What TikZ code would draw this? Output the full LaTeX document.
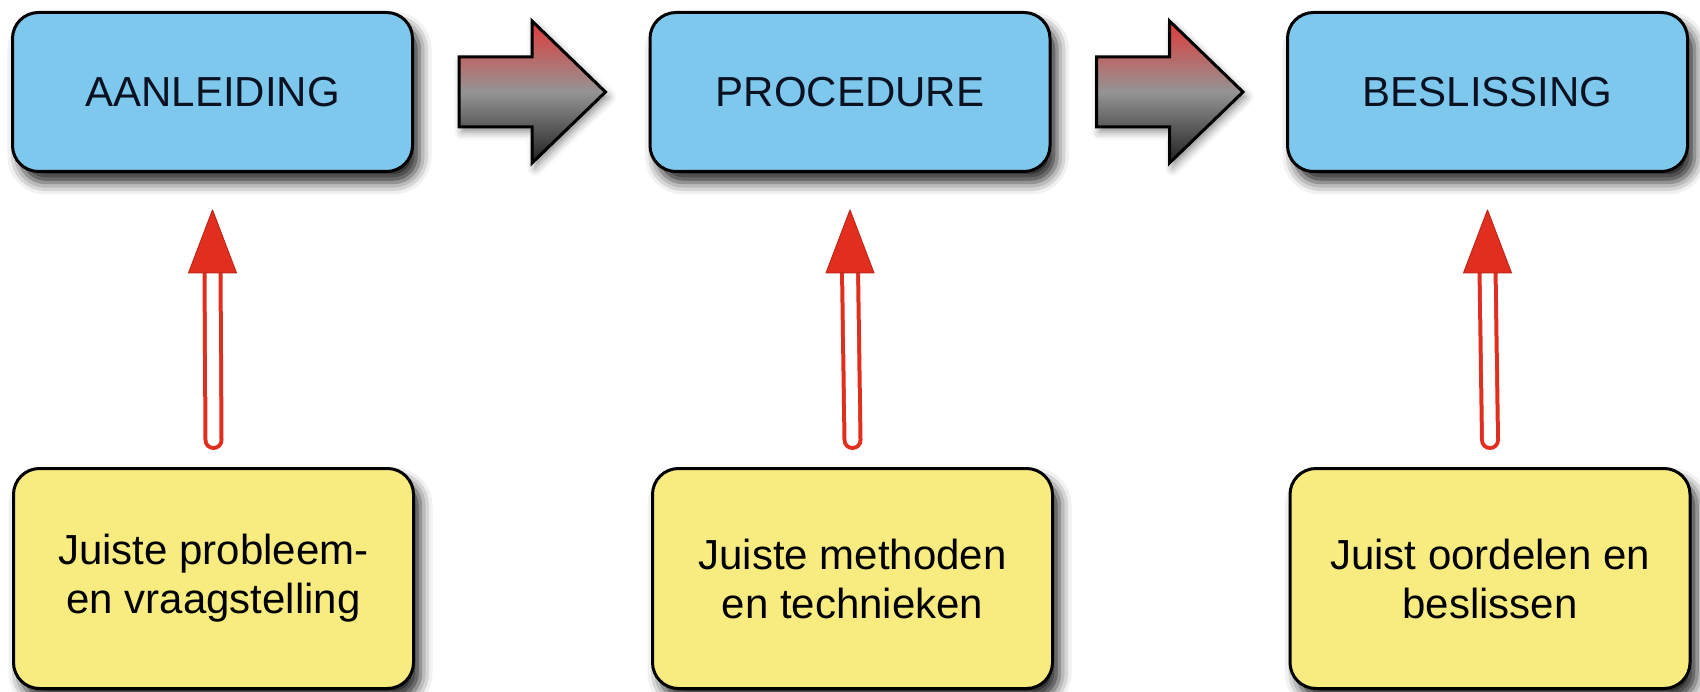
\documentclass[tikz,border=0pt]{standalone}
\usepackage{fontspec}
\setmainfont{Liberation Sans}
\usetikzlibrary{calc,shadows.blur}
\definecolor{boxblue}{RGB}{126,200,238}
\definecolor{boxyellow}{RGB}{248,236,128}
\definecolor{arrred}{RGB}{226,46,30}
\definecolor{arrtop}{RGB}{224,58,58}
\definecolor{arrmid}{RGB}{148,148,148}
\definecolor{arrbot}{RGB}{32,32,32}
\definecolor{navytext}{RGB}{10,18,34}
\begin{document}
\begin{tikzpicture}[x=1pt,y=-1pt,
  basebox/.style={draw=black, line width=3pt, rounded corners=26pt,
    font=\fontsize{42}{49}\selectfont, align=center,
    blur shadow={shadow xshift=7pt, shadow yshift=-11pt, shadow blur radius=12pt, shadow opacity=85}},
  stagebox/.style={basebox, fill=boxblue, text=navytext, minimum width=400pt, minimum height=159pt},
  notebox/.style={basebox, fill=boxyellow, text=black, minimum width=400pt, minimum height=220pt},
  bigarrow/.style={top color=arrtop, bottom color=arrbot, middle color=arrmid, draw=black,
    line width=3pt, line join=miter,
    blur shadow={shadow xshift=3pt, shadow yshift=-5pt, shadow blur radius=8pt, shadow opacity=45}},
  redshaft/.style={draw=arrred, line width=4pt, double=white, double distance=12pt, line cap=round},
  redhead/.style={fill=arrred, draw=arrred!85!black, line width=1pt, line join=round}]
\useasboundingbox (0,0) rectangle (1700,692);

\node[stagebox] (b1) at (212.5,92) {AANLEIDING};
\node[stagebox] (b2) at (850,92) {PROCEDURE};
\node[stagebox] (b3) at (1487.5,92) {BESLISSING};

\node[notebox] (y1) at (213.5,578.5) {Juiste probleem-\\en vraagstelling};
\node[notebox] (y2) at (852.5,578.5) {Juiste methoden\\en technieken};
\node[notebox] (y3) at (1490,578.5) {Juist oordelen en\\beslissen};

% big block arrows between stages
\coordinate (a1s) at ($(b1.east)+(45,0)$);
\coordinate (a1t) at ($(b2.west)+(-43,0)$);
\path[bigarrow] (a1s) ++(0,-35) -- ++(73,0) -- ++(0,-36) -- (a1t)
  -- ($(a1s)+(73,71)$) -- ++(0,-36) -- ++(-73,0) -- cycle;

\coordinate (a2s) at ($(b2.east)+(45,0)$);
\coordinate (a2t) at ($(b3.west)+(-43,0)$);
\path[bigarrow] (a2s) ++(0,-35) -- ++(73,0) -- ++(0,-36) -- (a2t)
  -- ($(a2s)+(73,71)$) -- ++(0,-36) -- ++(-73,0) -- cycle;

% red upward arrows
\foreach \y/\b in {y1/b1, y2/b2, y3/b3}{
  \draw[redshaft] ($(\y.north)+(0,-27)$) -- ($(\b.south)+(0,96)$);
  \path[redhead] ($(\b.south)+(-24,100)$) -- ($(\b.south)+(0,37)$) -- ($(\b.south)+(24,100)$) -- cycle;
}
\end{tikzpicture}
\end{document}
